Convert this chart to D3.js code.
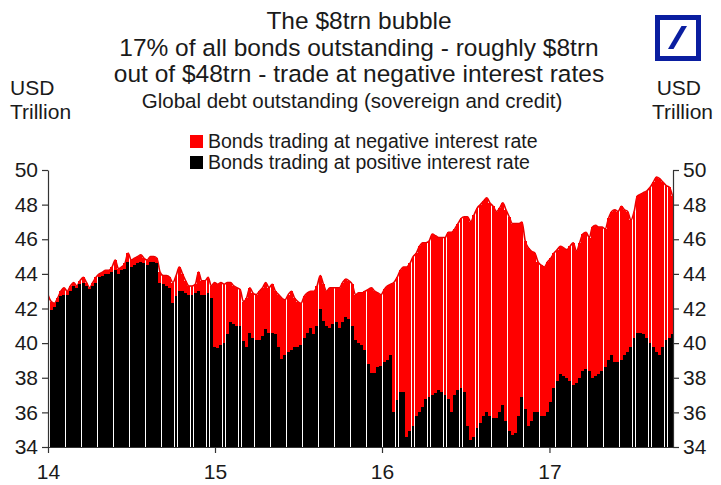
<!DOCTYPE html>
<html>
<head>
<meta charset="utf-8">
<script src="https://cdn.jsdelivr.net/npm/d3@7"></script>
<style>
  html, body { margin: 0; padding: 0; background: #fff; }
  svg { display: block; font-family: "Liberation Sans", Arial, sans-serif; }
</style>
</head>
<body>
<svg id="chart" width="721" height="485"></svg>
<script>
// Weekly global debt outstanding, USD trillion, starting 1 Jan 2014
const startDate = new Date(2014, 0, 1);

// Total bonds outstanding (top of each bar)
const totalDebt = [
  42.8, 42.4, 42.3, 42.6, 43.0, 43.2, 43.0, 43.3, 43.5, 43.3,
  43.6, 43.8, 43.5, 43.2, 43.5, 43.8, 44.0, 44.1, 44.2, 44.2,
  44.4, 44.8, 44.3, 44.4, 44.6, 45.2, 44.8, 44.9, 45.0, 45.1,
  44.9, 44.8, 45.0, 45.0, 44.9, 44.1, 43.9, 43.9, 43.8, 43.5,
  43.9, 44.4, 44.0, 43.6, 43.3, 43.3, 43.4, 44.1, 43.6, 43.6,
  43.8, 43.3, 43.5, 43.4, 43.5, 43.4, 43.5, 43.5, 43.3, 43.2,
  43.1, 42.4, 42.6, 43.2, 42.9, 42.8, 43.0, 43.2, 43.5, 43.2,
  43.4, 43.0, 42.8, 42.6, 42.5, 42.8, 43.0, 42.6, 42.4, 42.3,
  42.7, 42.9, 43.0, 43.0, 43.3, 43.9, 43.4, 43.0, 43.2, 43.2,
  43.2, 43.2, 43.5, 43.7, 43.6, 43.4, 42.8, 42.9, 42.9, 43.0,
  43.1, 43.2, 43.0, 42.9, 42.8, 43.1, 43.3, 43.4, 43.5, 43.8,
  44.2, 44.4, 44.4, 44.6, 45.0, 45.2, 45.6, 45.8, 45.8, 45.9,
  46.3, 46.2, 46.1, 46.1, 46.1, 46.4, 46.4, 46.6, 46.9, 47.2,
  47.3, 47.3, 47.0, 47.4, 47.8, 48.0, 48.2, 48.4, 48.1, 47.9,
  47.6, 47.8, 48.1, 47.7, 47.3, 46.9, 46.9, 46.9, 47.0, 45.9,
  45.5, 45.3, 45.2, 44.7, 44.5, 44.4, 44.7, 44.9, 45.2, 45.4,
  45.6, 45.5, 45.4, 45.6, 45.8, 45.3, 45.8, 46.3, 46.4, 46.1,
  46.7, 46.8, 46.7, 46.7, 46.6, 47.2, 47.6, 47.7, 47.6, 47.9,
  47.7, 47.6, 47.1, 47.6, 48.5, 48.6, 48.7, 48.8, 49.0, 49.3,
  49.6, 49.5, 49.3, 49.1, 49.0, 48.5
];

// Bonds trading at positive interest rate (top of the black part)
const positiveDebt = [
  41.9, 41.9, 42.1, 42.4, 42.7, 42.8, 42.8, 43.0, 43.3, 43.2,
  43.4, 43.5, 43.3, 43.1, 43.3, 43.5, 43.8, 43.9, 44.0, 44.0,
  44.1, 44.2, 44.0, 44.2, 44.3, 44.7, 44.4, 44.5, 44.6, 44.7,
  44.6, 44.5, 44.7, 44.7, 44.6, 43.5, 43.4, 43.3, 43.2, 42.3,
  42.7, 43.0, 43.0, 42.9, 42.8, 42.8, 42.9, 43.0, 42.8, 42.8,
  42.9, 42.6, 39.8, 39.7, 39.9, 40.0, 40.5, 41.2, 41.1, 41.0,
  41.0, 40.1, 39.8, 40.6, 40.3, 40.2, 40.2, 40.4, 40.8, 40.6,
  40.6, 40.5, 39.8, 39.1, 39.3, 39.5, 39.6, 39.8, 39.8, 39.9,
  40.3, 40.6, 40.9, 40.5, 41.0, 42.0, 41.3, 41.0, 40.9, 41.1,
  41.2, 40.9, 41.2, 41.5, 41.4, 41.0, 40.2, 40.0, 39.9, 39.6,
  38.8, 38.3, 38.3, 38.6, 38.7, 38.9, 39.0, 39.3, 36.0, 36.7,
  37.2, 37.2, 34.6, 34.9, 35.2, 35.8, 36.0, 36.3, 36.8, 36.9,
  37.0, 37.1, 37.3, 37.2, 37.0, 36.8, 36.0, 37.0, 37.3, 37.4,
  37.2, 35.2, 34.4, 34.6, 35.1, 35.4, 35.8, 36.0, 35.8, 35.7,
  35.7, 36.0, 36.4, 35.5, 34.9, 34.7, 34.8, 35.8, 36.9, 36.2,
  35.2, 35.5, 36.0, 36.0, 35.8, 35.8, 36.0, 36.6, 37.4, 37.8,
  38.2, 38.1, 38.0, 37.8, 37.6, 37.7, 38.0, 38.4, 38.5, 38.4,
  38.0, 38.1, 38.2, 38.4, 38.6, 39.0, 39.3, 38.9, 38.9, 39.0,
  39.3, 39.5, 39.8, 40.3, 40.6, 40.6, 40.5, 40.3, 40.0, 39.8,
  39.5, 39.3, 39.8, 40.2, 40.3, 40.5
];

const yTicks = [34, 36, 38, 40, 42, 44, 46, 48, 50];
const yearTicks = ["14", "15", "16", "17"];

const titleLines = [
  "The $8trn bubble",
  "17% of all bonds outstanding - roughly $8trn",
  "out of $48trn - trade at negative interest rates"
];
const subtitle = "Global debt outstanding (sovereign and credit)";
const seriesNames = [
  "Bonds trading at negative interest rate",
  "Bonds trading at positive interest rate"
];
const seriesColors = ["#ff0000", "#000000"];

const weeks = totalDebt.map((t, i) => ({
  date: d3.timeDay.offset(startDate, 7 * i),
  total: t,
  positive: positiveDebt[i]
}));

const svg = d3.select("#chart");
const plot = { left: 48, right: 673, top: 170, bottom: 447 };
const axisColor = "#333";
const textColor = "#1a1a1a";

const x = d3.scaleTime()
  .domain([startDate, new Date(2017, 8, 28)])
  .range([plot.left, plot.right]);
const y = d3.scaleLinear()
  .domain([34, 50])
  .range([plot.bottom, plot.top]);

// clip bars to the plotting area
svg.append("clipPath").attr("id", "plotClip")
  .append("rect")
  .attr("x", plot.left).attr("y", plot.top - 20)
  .attr("width", plot.right - plot.left).attr("height", plot.bottom - plot.top + 20);

const step = x(d3.timeDay.offset(startDate, 7)) - x(startDate);
const barW = step - 0.28;

const clipped = svg.append("g").attr("clip-path", "url(#plotClip)");

// smooth upper edge of the red area
clipped.append("path")
  .datum(weeks)
  .attr("fill", "none")
  .attr("stroke", "#e60000")
  .attr("stroke-width", 1.6)
  .attr("stroke-linejoin", "round")
  .attr("d", d3.line().x(d => x(d.date)).y(d => y(d.total)).curve(d3.curveMonotoneX));

const bars = clipped.append("g").attr("shape-rendering", "crispEdges");

// red: whole stack up to total
bars.selectAll("rect.neg").data(weeks).join("rect")
  .attr("class", "neg")
  .attr("x", d => x(d.date) - step / 2)
  .attr("width", barW)
  .attr("y", d => y(d.total))
  .attr("height", d => y(d.positive) - y(d.total))
  .attr("fill", seriesColors[0]);

// black: positive-rate bonds from the axis floor
bars.selectAll("rect.pos").data(weeks).join("rect")
  .attr("class", "pos")
  .attr("x", d => x(d.date) - step / 2)
  .attr("width", barW)
  .attr("y", d => y(d.positive))
  .attr("height", d => y(34) - y(d.positive))
  .attr("fill", seriesColors[1]);

// axes
function styleAxis(g) {
  g.selectAll(".domain").attr("stroke", axisColor).attr("stroke-width", 1.2);
  g.selectAll(".tick line").attr("stroke", axisColor).attr("stroke-width", 1.2);
  g.selectAll(".tick text").attr("fill", textColor)
    .style("font-size", "21px")
    .style("font-family", "'Liberation Sans', Arial, sans-serif");
}

svg.append("g")
  .attr("transform", `translate(${plot.left},0)`)
  .call(d3.axisLeft(y).tickValues(yTicks).tickSize(6).tickPadding(4).tickSizeOuter(0))
  .call(styleAxis);

svg.append("g")
  .attr("transform", `translate(${plot.right},0)`)
  .call(d3.axisRight(y).tickValues(yTicks).tickSize(6).tickPadding(4).tickSizeOuter(0))
  .call(styleAxis);

const yearDates = yearTicks.map(t => new Date(2000 + +t, 0, 1));
svg.append("g")
  .attr("transform", `translate(0,${plot.bottom})`)
  .call(d3.axisBottom(x).tickValues(yearDates)
    .tickFormat((d, i) => yearTicks[i]).tickSize(6).tickPadding(11).tickSizeOuter(0))
  .call(styleAxis);

// titles
const titleG = svg.append("g").attr("fill", textColor).attr("text-anchor", "middle");
titleG.selectAll("text").data(titleLines).join("text")
  .attr("x", 359)
  .attr("y", (d, i) => 29 + i * 26.5)
  .style("font-size", "24.5px")
  .text(d => d);

svg.append("text")
  .attr("x", 352).attr("y", 108)
  .attr("text-anchor", "middle").attr("fill", textColor)
  .style("font-size", "20.5px")
  .text(subtitle);

// unit labels
[["start", 10], ["end", 713]].forEach(([anchor, px]) => {
  const g = svg.append("g").attr("fill", textColor).attr("text-anchor", anchor)
    .style("font-size", "21px");
  g.append("text").attr("x", anchor === "start" ? 10 : 701).attr("y", 95).text("USD");
  g.append("text").attr("x", px).attr("y", 119).text("Trillion");
});

// legend
const legend = svg.append("g").attr("transform", "translate(190,134)");
seriesNames.forEach((name, i) => {
  const row = legend.append("g").attr("transform", `translate(0,${i * 21})`);
  row.append("rect").attr("y", 1).attr("width", 13).attr("height", 13).attr("fill", seriesColors[i]);
  row.append("text").attr("x", 18).attr("y", 14)
    .attr("fill", textColor).style("font-size", "19.5px").text(name);
});

// bank logo
const logo = svg.append("g").attr("transform", "translate(655,15)");
logo.append("rect").attr("x", 2.5).attr("y", 2.5).attr("width", 41).attr("height", 41)
  .attr("fill", "none").attr("stroke", "#0a1ea0").attr("stroke-width", 5);
logo.append("path").attr("d", "M13,34 L18.5,34 L32,11 L26.5,11 Z").attr("fill", "#0a1ea0");
</script>
</body>
</html>
